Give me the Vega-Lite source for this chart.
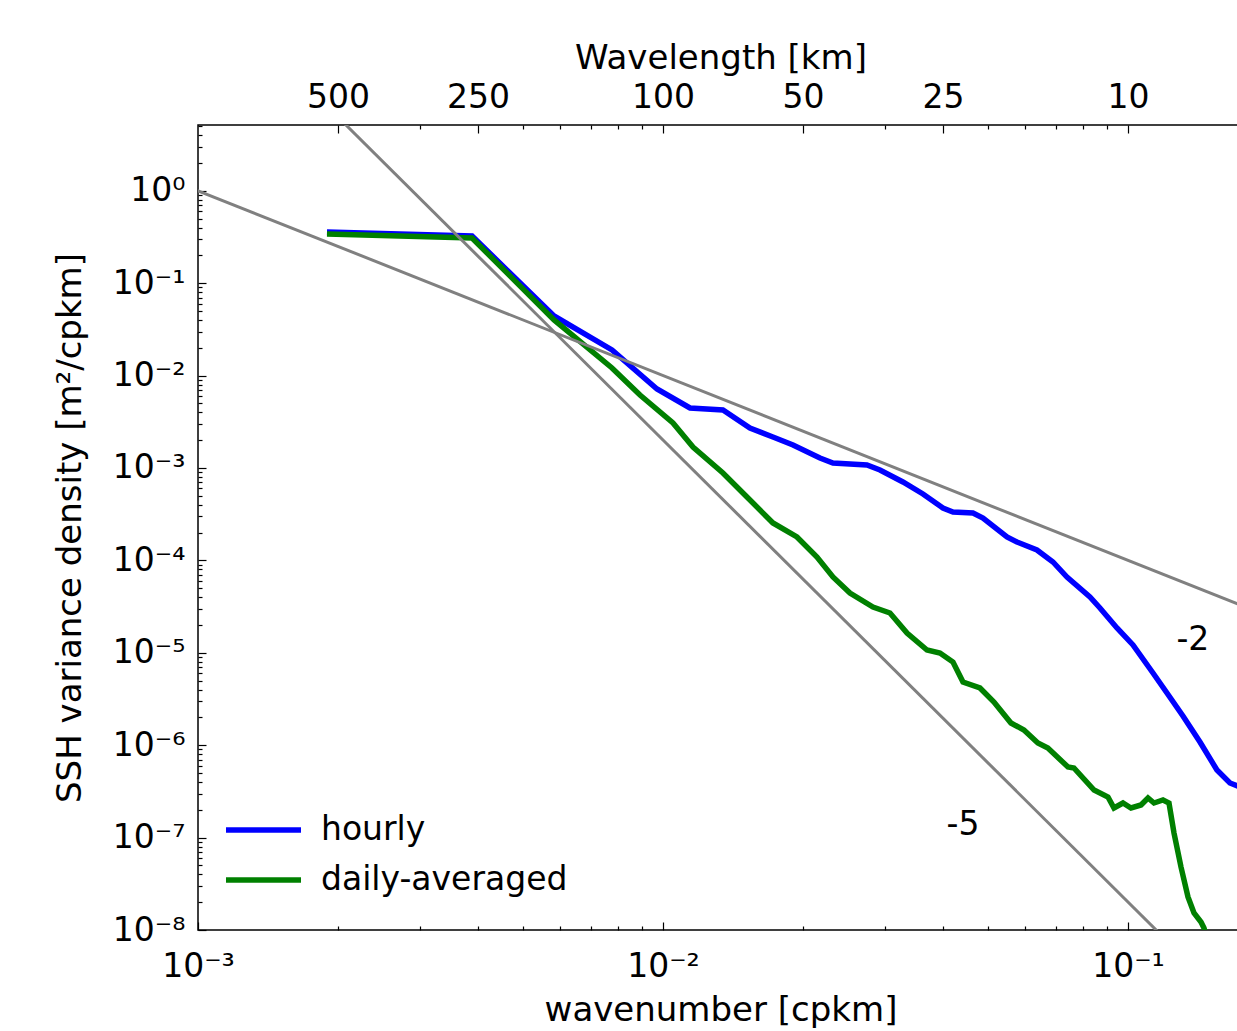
{
  "$schema": "https://vega.github.io/schema/vega-lite/v6.json",
  "autosize": "none",
  "padding": {"left": 198, "top": 125, "right": 0, "bottom": 101},
  "width": 1045,
  "height": 805,
  "background": "white",
  "config": {
    "view": {"stroke": "black", "strokeWidth": 1.5},
    "font": "DejaVu Sans",
    "axis": {
      "labelFont": "DejaVu Sans", "titleFont": "DejaVu Sans",
      "labelFontSize": 33, "titleFontSize": 34,
      "labelColor": "black", "titleColor": "black", "titleFontWeight": "normal",
      "tickColor": "black", "tickWidth": 1.2, "domain": false, "grid": false
    }
  },
  "datasets": {
    "spectra": [
      {"series": "hourly", "k": 0.0018940, "v": 0.35808},
      {"series": "hourly", "k": 0.0038848, "v": 0.32418},
      {"series": "hourly", "k": 0.0058303, "v": 0.044168},
      {"series": "hourly", "k": 0.0077687, "v": 0.018923},
      {"series": "hourly", "k": 0.0097074, "v": 0.0071610},
      {"series": "hourly", "k": 0.011430, "v": 0.0044600},
      {"series": "hourly", "k": 0.013458, "v": 0.0042432},
      {"series": "hourly", "k": 0.015383, "v": 0.0027094},
      {"series": "hourly", "k": 0.017238, "v": 0.0021650},
      {"series": "hourly", "k": 0.019039, "v": 0.0017738},
      {"series": "hourly", "k": 0.021758, "v": 0.0012834},
      {"series": "hourly", "k": 0.023202, "v": 0.0011324},
      {"series": "hourly", "k": 0.027457, "v": 0.0010775},
      {"series": "hourly", "k": 0.029286, "v": 0.00095137},
      {"series": "hourly", "k": 0.032813, "v": 0.00070558},
      {"series": "hourly", "k": 0.036236, "v": 0.00052310},
      {"series": "hourly", "k": 0.040000, "v": 0.00036922},
      {"series": "hourly", "k": 0.042040, "v": 0.00033417},
      {"series": "hourly", "k": 0.046416, "v": 0.00032594},
      {"series": "hourly", "k": 0.048775, "v": 0.00028766},
      {"series": "hourly", "k": 0.054931, "v": 0.00017914},
      {"series": "hourly", "k": 0.057713, "v": 0.00015819},
      {"series": "hourly", "k": 0.063704, "v": 0.00012959},
      {"series": "hourly", "k": 0.068985, "v": 0.000096089},
      {"series": "hourly", "k": 0.073930, "v": 0.000066107},
      {"series": "hourly", "k": 0.082837, "v": 0.000040174},
      {"series": "hourly", "k": 0.087045, "v": 0.000030531},
      {"series": "hourly", "k": 0.094700, "v": 0.000018557},
      {"series": "hourly", "k": 0.10251, "v": 0.000012147},
      {"series": "hourly", "k": 0.11319, "v": 0.0000060425},
      {"series": "hourly", "k": 0.12131, "v": 0.0000036720},
      {"series": "hourly", "k": 0.13130, "v": 0.0000020702},
      {"series": "hourly", "k": 0.14284, "v": 0.0000010830},
      {"series": "hourly", "k": 0.15536, "v": 5.3898e-7},
      {"series": "hourly", "k": 0.16567, "v": 3.8987e-7},
      {"series": "hourly", "k": 0.17413, "v": 3.5284e-7},
      {"series": "daily-averaged", "k": 0.0018940, "v": 0.34072},
      {"series": "daily-averaged", "k": 0.0038848, "v": 0.30844},
      {"series": "daily-averaged", "k": 0.0058303, "v": 0.039968},
      {"series": "daily-averaged", "k": 0.0077687, "v": 0.012088},
      {"series": "daily-averaged", "k": 0.0089237, "v": 0.0061665},
      {"series": "daily-averaged", "k": 0.010508, "v": 0.0030693},
      {"series": "daily-averaged", "k": 0.011602, "v": 0.0016878},
      {"series": "daily-averaged", "k": 0.013458, "v": 0.00088296},
      {"series": "daily-averaged", "k": 0.015157, "v": 0.00048542},
      {"series": "daily-averaged", "k": 0.017238, "v": 0.00025394},
      {"series": "daily-averaged", "k": 0.019413, "v": 0.00017914},
      {"series": "daily-averaged", "k": 0.021437, "v": 0.00010882},
      {"series": "daily-averaged", "k": 0.023202, "v": 0.000066107},
      {"series": "daily-averaged", "k": 0.025242, "v": 0.000044382},
      {"series": "daily-averaged", "k": 0.028290, "v": 0.000031303},
      {"series": "daily-averaged", "k": 0.030776, "v": 0.000026960},
      {"series": "daily-averaged", "k": 0.033482, "v": 0.000016375},
      {"series": "daily-averaged", "k": 0.036961, "v": 0.000010722},
      {"series": "daily-averaged", "k": 0.039419, "v": 0.0000099504},
      {"series": "daily-averaged", "k": 0.042040, "v": 0.0000079512},
      {"series": "daily-averaged", "k": 0.044176, "v": 0.0000048306},
      {"series": "daily-averaged", "k": 0.048048, "v": 0.0000041593},
      {"series": "daily-averaged", "k": 0.051497, "v": 0.0000029344},
      {"series": "daily-averaged", "k": 0.056017, "v": 0.0000017392},
      {"series": "daily-averaged", "k": 0.059735, "v": 0.0000014607},
      {"series": "daily-averaged", "k": 0.064012, "v": 0.0000010563},
      {"series": "daily-averaged", "k": 0.067265, "v": 9.3263e-7},
      {"series": "daily-averaged", "k": 0.074293, "v": 5.8079e-7},
      {"series": "daily-averaged", "k": 0.076530, "v": 5.6645e-7},
      {"series": "daily-averaged", "k": 0.084529, "v": 3.2739e-7},
      {"series": "daily-averaged", "k": 0.090573, "v": 2.7503e-7},
      {"series": "daily-averaged", "k": 0.093303, "v": 2.0910e-7},
      {"series": "daily-averaged", "k": 0.097555, "v": 2.3683e-7},
      {"series": "daily-averaged", "k": 0.10150, "v": 2.0910e-7},
      {"series": "daily-averaged", "k": 0.10667, "v": 2.2532e-7},
      {"series": "daily-averaged", "k": 0.11043, "v": 2.6827e-7},
      {"series": "daily-averaged", "k": 0.11376, "v": 2.3683e-7},
      {"series": "daily-averaged", "k": 0.11894, "v": 2.5520e-7},
      {"series": "daily-averaged", "k": 0.12253, "v": 2.3683e-7},
      {"series": "daily-averaged", "k": 0.12560, "v": 1.1215e-7},
      {"series": "daily-averaged", "k": 0.13003, "v": 4.8058e-8},
      {"series": "daily-averaged", "k": 0.13461, "v": 2.2762e-8},
      {"series": "daily-averaged", "k": 0.13867, "v": 1.5272e-8},
      {"series": "daily-averaged", "k": 0.14356, "v": 1.2208e-8},
      {"series": "daily-averaged", "k": 0.14571, "v": 1.0511e-8},
      {"series": "daily-averaged", "k": 0.14936, "v": 6.883e-9}
    ],
    "slope2": [{"k": 0.0009, "v": 1.2346}, {"k": 0.2, "v": 0.000025}],
    "slope5": [{"k": 0.002, "v": 6.28}, {"k": 0.15, "v": 2.646e-9}],
    "notes": [
      {"k": 0.1379, "v": 1.377e-5, "t": "-2"},
      {"k": 0.04417, "v": 1.368e-7, "t": "-5"}
    ]
  },
  "resolve": {"axis": {"x": "independent", "y": "independent"}},
  "layer": [
    {
      "data": {"name": "spectra"},
      "mark": {"type": "line", "clip": true, "strokeWidth": 5.5},
      "encoding": {
        "x": {
          "field": "k", "type": "quantitative",
          "scale": {"type": "log", "domain": [0.001, 0.17676], "nice": false},
          "axis": {
            "orient": "bottom", "values": [0.001, 0.01, 0.1], "tickSize": -8,
            "labelPadding": 28, "labelFlush": false,
            "labelExpr": "'10' + (datum.value < 1 ? '⁻' : '') + ['⁰','¹','²','³','⁴','⁵','⁶','⁷','⁸','⁹'][abs(round(log(datum.value)/LN10))]",
            "title": "wavenumber [cpkm]", "titlePadding": 10
          }
        },
        "y": {
          "field": "v", "type": "quantitative",
          "scale": {"type": "log", "domain": [1e-8, 5.152], "nice": false},
          "axis": {
            "orient": "left",
            "values": [1e-8, 1e-7, 1e-6, 1e-5, 1e-4, 1e-3, 1e-2, 1e-1, 1],
            "tickSize": -8, "labelPadding": 21, "labelFlush": false,
            "labelExpr": "'10' + (datum.value < 1 ? '⁻' : '') + ['⁰','¹','²','³','⁴','⁵','⁶','⁷','⁸','⁹'][abs(round(log(datum.value)/LN10))]",
            "title": "SSH variance density [m²/cpkm]", "titlePadding": 25
          }
        },
        "color": {
          "field": "series", "type": "nominal",
          "scale": {"domain": ["hourly", "daily-averaged"], "range": ["#0000ff", "#008000"]},
          "legend": {
            "orient": "none", "legendX": 25, "legendY": 685, "title": null,
            "symbolType": "stroke", "symbolSize": 5625, "symbolStrokeWidth": 5.5,
            "labelFontSize": 33, "labelFont": "DejaVu Sans", "labelColor": "black",
            "labelLimit": 500,
            "labelOffset": 17, "clipHeight": 40, "rowPadding": 10, "padding": 0
          }
        }
      }
    },
    {
      "data": {"name": "slope2"},
      "mark": {"type": "line", "clip": true, "strokeWidth": 3, "color": "#808080"},
      "encoding": {
        "x": {
          "field": "k", "type": "quantitative",
          "scale": {"type": "log", "domain": [0.001, 0.17676], "nice": false},
          "axis": {
            "orient": "bottom",
            "values": [0.002, 0.003, 0.004, 0.005, 0.006, 0.007, 0.008, 0.009, 0.02, 0.03, 0.04, 0.05, 0.06, 0.07, 0.08, 0.09],
            "tickSize": -4, "labels": false, "title": null
          }
        },
        "y": {
          "field": "v", "type": "quantitative",
          "scale": {"type": "log", "domain": [1e-8, 5.152], "nice": false},
          "axis": {
            "orient": "left",
            "values": [2e-8, 3e-8, 4e-8, 5e-8, 6e-8, 7e-8, 8e-8, 9e-8, 2e-7, 3e-7, 4e-7, 5e-7, 6e-7, 7e-7, 8e-7, 9e-7, 2e-6, 3e-6, 4e-6, 5e-6, 6e-6, 7e-6, 8e-6, 9e-6, 2e-5, 3e-5, 4e-5, 5e-5, 6e-5, 7e-5, 8e-5, 9e-5, 2e-4, 3e-4, 4e-4, 5e-4, 6e-4, 7e-4, 8e-4, 9e-4, 0.002, 0.003, 0.004, 0.005, 0.006, 0.007, 0.008, 0.009, 0.02, 0.03, 0.04, 0.05, 0.06, 0.07, 0.08, 0.09, 0.2, 0.3, 0.4, 0.5, 0.6, 0.7, 0.8, 0.9, 2, 3, 4, 5],
            "tickSize": -4, "labels": false, "title": null
          }
        }
      }
    },
    {
      "data": {"name": "slope5"},
      "mark": {"type": "line", "clip": true, "strokeWidth": 3, "color": "#808080"},
      "encoding": {
        "x": {
          "field": "k", "type": "quantitative",
          "scale": {"type": "log", "domain": [0.001, 0.17676], "nice": false},
          "axis": {
            "orient": "top",
            "values": [0.003, 0.005, 0.006, 0.007, 0.008, 0.009, 0.03, 0.05, 0.06, 0.07, 0.08, 0.09],
            "tickSize": -4, "labels": false, "title": null
          }
        },
        "y": {
          "field": "v", "type": "quantitative",
          "scale": {"type": "log", "domain": [1e-8, 5.152], "nice": false},
          "axis": null
        }
      }
    },
    {
      "data": {"name": "notes"},
      "mark": {"type": "text", "fontSize": 33, "font": "DejaVu Sans", "color": "black", "align": "center", "baseline": "middle"},
      "encoding": {
        "x": {
          "field": "k", "type": "quantitative",
          "scale": {"type": "log", "domain": [0.001, 0.17676], "nice": false},
          "axis": {
            "orient": "top", "values": [0.002, 0.004, 0.01, 0.02, 0.04, 0.1],
            "tickSize": -8, "labelPadding": 19, "labelFlush": false,
            "labelExpr": "format(round(1/datum.value), 'd')",
            "title": "Wavelength [km]", "titlePadding": 6
          }
        },
        "y": {
          "field": "v", "type": "quantitative",
          "scale": {"type": "log", "domain": [1e-8, 5.152], "nice": false},
          "axis": null
        },
        "text": {"field": "t", "type": "nominal"}
      }
    }
  ]
}
